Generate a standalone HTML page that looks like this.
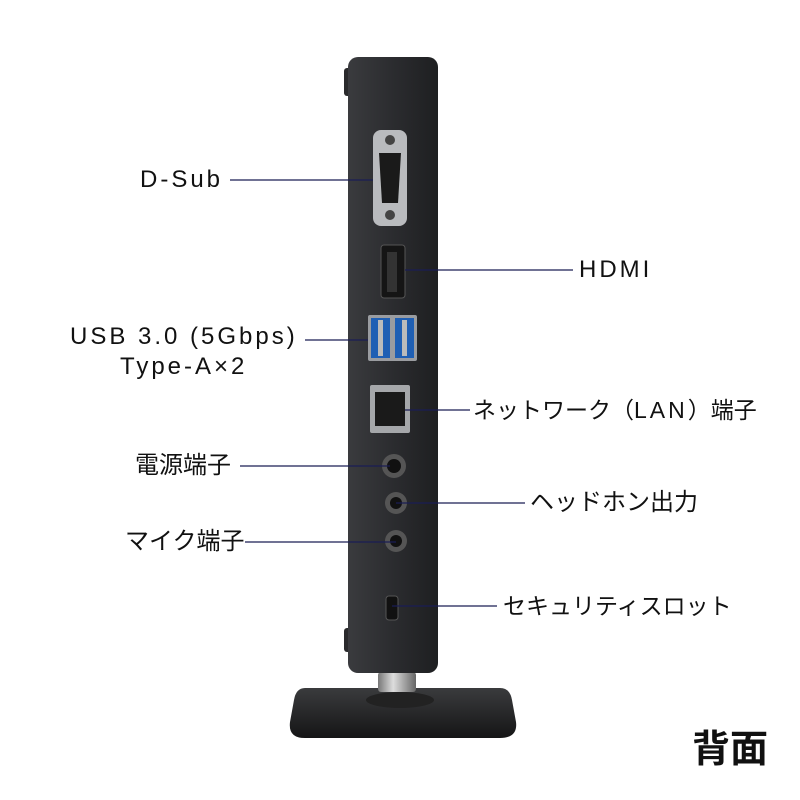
<!DOCTYPE html>
<html><head><meta charset="utf-8"><style>
html,body{margin:0;padding:0;background:#fff;}
body{width:800px;height:800px;position:relative;overflow:hidden;font-family:"Liberation Sans","Noto Sans CJK JP",sans-serif;color:#111;}
.t{position:absolute;font-size:24px;line-height:1;white-space:nowrap;}
.l{letter-spacing:3px;}
svg{position:absolute;left:0;top:0;}
</style></head><body>
<svg width="800" height="800" viewBox="0 0 800 800">
<defs>
<linearGradient id="body" x1="0" x2="1"><stop offset="0" stop-color="#3a3b3e"/><stop offset="0.5" stop-color="#2b2c2f"/><stop offset="1" stop-color="#1e1f21"/></linearGradient>
<linearGradient id="base" x1="0" y1="0" x2="0" y2="1"><stop offset="0" stop-color="#3a3b3d"/><stop offset="1" stop-color="#151516"/></linearGradient>
<linearGradient id="knurl" x1="0" x2="1"><stop offset="0" stop-color="#777"/><stop offset="0.4" stop-color="#ddd"/><stop offset="1" stop-color="#666"/></linearGradient>
</defs>
<path d="M305 688 L500 688 Q510 688 512 700 L516 722 Q518 738 500 738 L305 738 Q288 738 290 722 L294 700 Q296 688 305 688Z" fill="url(#base)"/>
<ellipse cx="400" cy="700" rx="34" ry="8" fill="#222"/>
<rect x="378" y="672" width="38" height="20" rx="3" fill="url(#knurl)"/>
<rect x="344" y="68" width="10" height="28" rx="3" fill="#2a2a2c"/>
<rect x="344" y="628" width="10" height="24" rx="3" fill="#2a2a2c"/>
<rect x="348" y="57" width="90" height="616" rx="10" fill="url(#body)"/>
<rect x="373" y="130" width="34" height="96" rx="8" fill="#b9bbbe"/>
<circle cx="390" cy="140" r="5" fill="#444"/><circle cx="390" cy="215" r="5" fill="#444"/>
<path d="M379 153 L401 153 L398 203 L382 203Z" fill="#1a1a1a"/>
<rect x="381" y="245" width="24" height="53" rx="3" fill="#151515" stroke="#555"/>
<rect x="387" y="252" width="10" height="40" fill="#333"/>
<rect x="368" y="315" width="49" height="46" rx="2" fill="#9a9ca0"/>
<rect x="371" y="318" width="19" height="40" fill="#1f5fb4"/>
<rect x="395" y="318" width="19" height="40" fill="#1f5fb4"/>
<rect x="378" y="320" width="5" height="36" fill="#bbb"/><rect x="402" y="320" width="5" height="36" fill="#bbb"/>
<rect x="370" y="385" width="40" height="48" rx="2" fill="#a5a7aa"/>
<rect x="375" y="392" width="30" height="34" fill="#1a1a1a"/>
<circle cx="394" cy="466" r="12" fill="#555"/><circle cx="394" cy="466" r="7" fill="#111"/>
<circle cx="396" cy="503" r="11" fill="#555"/><circle cx="396" cy="503" r="6" fill="#111"/>
<circle cx="396" cy="541" r="11" fill="#555"/><circle cx="396" cy="541" r="6" fill="#111"/>
<rect x="386" y="596" width="12" height="24" rx="3" fill="#111" stroke="#555"/>
<g stroke="#1a1d55" stroke-width="1.3">
<line x1="230" y1="180" x2="373" y2="180"/>
<line x1="405" y1="270" x2="573" y2="270"/>
<line x1="305" y1="340" x2="368" y2="340"/>
<line x1="405" y1="410" x2="470" y2="410"/>
<line x1="240" y1="466" x2="390" y2="466"/>
<line x1="396" y1="503" x2="525" y2="503"/>
<line x1="245" y1="542" x2="396" y2="542"/>
<line x1="392" y1="606" x2="497" y2="606"/>
</g>
</svg>
<div class="t l" style="left:140px;top:168px;">D-Sub</div>
<div class="t l" style="left:579px;top:258px;">HDMI</div>
<div class="t l" style="left:70px;top:325px;">USB 3.0 (5Gbps)</div>
<div class="t l" style="left:120px;top:355px;">Type-A×2</div>
<div class="t" style="left:473px;top:399px;font-size:23px;">ネットワーク（<span class="l">LAN</span>）端子</div>
<div class="t" style="left:135px;top:454px;">電源端子</div>
<div class="t" style="left:530px;top:491px;">ヘッドホン出力</div>
<div class="t" style="left:125px;top:530px;">マイク端子</div>
<div class="t" style="left:503px;top:595px;font-size:23px;">セキュリティスロット</div>
<div class="t" style="left:692px;top:731px;font-size:38px;font-weight:bold;">背面</div>
</body></html>
